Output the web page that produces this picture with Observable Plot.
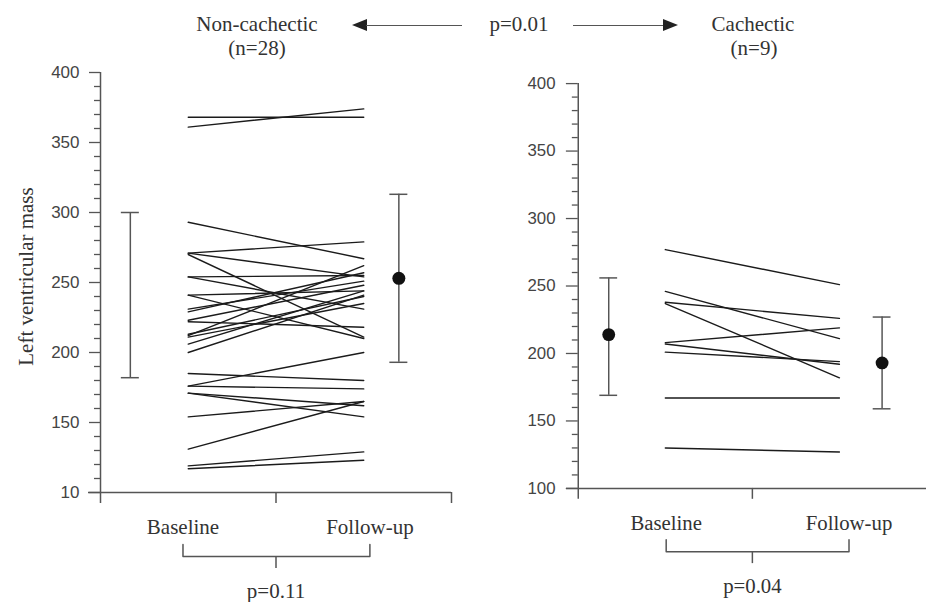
<!DOCTYPE html>
<html><head><meta charset="utf-8">
<script src="https://cdn.jsdelivr.net/npm/d3@7"></script>
<script src="https://cdn.jsdelivr.net/npm/@observablehq/plot@0.6"></script>
<style>
html,body{margin:0;padding:0;background:#fff;width:926px;height:602px;overflow:hidden;}
#wrap{position:relative;width:926px;height:602px;overflow:hidden;}
.panel{position:absolute;top:0;}
.hd{position:absolute;font-family:"Liberation Serif","Times New Roman",serif;font-size:21px;color:#333;transform:translate(-50%,-50%);white-space:nowrap;line-height:1;}
.ln{position:absolute;height:1.5px;background:#555;}
.triL{position:absolute;width:0;height:0;border-top:6px solid transparent;border-bottom:6px solid transparent;border-right:15px solid #222;}
.triR{position:absolute;width:0;height:0;border-top:6px solid transparent;border-bottom:6px solid transparent;border-left:15px solid #222;}
</style>
</head><body>
<div id="wrap">
  <div class="hd" style="left:257px;top:24px">Non-cachectic</div>
  <div class="hd" style="left:257px;top:48px">(n=28)</div>
  <div class="triL" style="left:352px;top:19px"></div>
  <div class="ln" style="left:366px;top:24.5px;width:96px"></div>
  <div class="hd" style="left:519px;top:24px">p=0.01</div>
  <div class="ln" style="left:573px;top:24.5px;width:91px"></div>
  <div class="triR" style="left:663px;top:19px"></div>
  <div class="hd" style="left:753px;top:24px">Cachectic</div>
  <div class="hd" style="left:754px;top:48px">(n=9)</div>
  <div id="left" class="panel" style="left:0px"></div>
  <div id="right" class="panel" style="left:463px"></div>
</div>
<script>
// ---- data ----
const groups = ["Baseline", "Follow-up"];
const yLabel = "Left ventricular mass";

const nonCachecticBaseline = [368, 361, 293, 271, 271, 270, 254, 254, 241, 241, 231, 229, 223, 212, 213, 211, 206, 222, 200, 185, 176, 176, 171, 171, 154, 131, 119, 117];
const nonCachecticFollowup = [368, 374, 267, 279, 254, 211, 255, 231, 244, 210, 251, 257, 248, 262, 240, 235, 244, 218, 241, 180, 200, 174, 154, 162, 165, 165, 129, 123];

const cachecticBaseline = [277, 246, 238, 237, 208, 207, 201, 167, 130];
const cachecticFollowup = [251, 211, 226, 182, 219, 192, 194, 167, 127];

// summary bars: mean (null = not drawn), lower, upper
const nonCachecticBars = [
  {side: "baseline", mean: null, lo: 182, hi: 300},
  {side: "followup", mean: 253, lo: 193, hi: 313}
];
const cachecticBars = [
  {side: "baseline", mean: 214, lo: 169, hi: 256},
  {side: "followup", mean: 193, lo: 159, hi: 227}
];

const yTicks = [100, 150, 200, 250, 300, 350, 400];
const yTickLabelsLeft = ["10", "150", "200", "250", "300", "350", "400"];
const yTickLabelsRight = ["100", "150", "200", "250", "300", "350", "400"];
const pLeft = "p=0.11";
const pRight = "p=0.04";

// ---- drawing ----
const serif = '"Liberation Serif","Times New Roman",serif';
const sans = '"Liberation Sans",Arial,sans-serif';
const axisColor = "#555";
const textColor = "#333";

function panel(cfg) {
  const {base, follow, bars, tickLabels, pText, top, k, width, marginLeft, marginRight,
         errX, labelX, tickSize, tickPadding, xEnd, endTick, showYLabel} = cfg;
  const px = (width - marginLeft - marginRight) / 2; // px per x unit
  const bottom = top + 300 * k;
  const down = (p) => 100 - p / k; // value p pixels below baseline
  const rows = [];
  base.forEach((b, i) => { rows.push({id: i, x: 1, v: b}); rows.push({id: i, x: 2, v: follow[i]}); });
  const barRows = bars.map(b => ({...b, x: b.side === "baseline" ? errX[0] : errX[1]}));
  const capW = 9 / px;
  const caps = barRows.flatMap(b => [{x: b.x, y: b.lo}, {x: b.x, y: b.hi}]);
  const minor = d3.range(100, 401, 10).filter(v => v % 50 !== 0);
  const bx1 = labelX[0], bx2 = labelX[1];
  const bracket = [{x: bx1, y: down(52)}, {x: bx1, y: down(64)}, {x: bx2, y: down(64)}, {x: bx2, y: down(52)}];
  const marks = [
    Plot.ruleX([0.5], {y1: 400, y2: down(11), stroke: axisColor, strokeWidth: 1.5}),
    Plot.ruleY([100], {x1: 0.5 - 12 / px, x2: xEnd, stroke: axisColor, strokeWidth: 1.5}),
    Plot.ruleX(endTick ? [1.5, xEnd] : [1.5], {y1: 100, y2: down(11), stroke: axisColor, strokeWidth: 1.5}),
    Plot.ruleY(minor, {x1: 0.5 - 6 / px, x2: 0.5, stroke: axisColor, strokeWidth: 1.3}),
    Plot.axisY(yTicks, {tickSize, tickPadding, stroke: axisColor, strokeWidth: 1.3,
      tickFormat: (d) => tickLabels[yTicks.indexOf(d)], fontSize: 17, fontFamily: sans, fill: "#444", label: null}),
    Plot.line(rows, {x: "x", y: "v", z: "id", stroke: "#1b1b1b", strokeWidth: 1.4}),
    Plot.ruleX(barRows, {x: "x", y1: "lo", y2: "hi", stroke: "#555", strokeWidth: 1.5}),
    Plot.ruleY(caps, {x1: d => d.x - capW, x2: d => d.x + capW, y: "y", stroke: "#555", strokeWidth: 1.5}),
    Plot.dot(barRows.filter(b => b.mean != null), {x: "x", y: "mean", r: 6.5, fill: "#111", stroke: "none"}),
    Plot.text(groups, {x: (d, i) => labelX[i], y: 100, dy: 35, text: d => d, fontSize: 21, fontFamily: serif, fill: textColor}),
    Plot.line(bracket, {x: "x", y: "y", stroke: axisColor, strokeWidth: 1.5}),
    Plot.ruleX([1.5], {y1: down(64), y2: down(76), stroke: axisColor, strokeWidth: 1.5}),
    Plot.text([pText], {x: 1.5, y: down(99), text: d => d, fontSize: 21, fontFamily: serif, fill: textColor})
  ];
  if (showYLabel) {
    marks.push(Plot.text([yLabel], {x: 0.5, y: 250, dx: -74, dy: -6, rotate: -90, text: d => d, fontSize: 21, fontFamily: serif, fill: textColor}));
  }
  return Plot.plot({
    width, height: 602,
    marginTop: top, marginBottom: 602 - bottom, marginLeft, marginRight,
    x: {domain: [0.5, 2.5], axis: null},
    y: {domain: [100, 400], axis: null},
    style: {background: "transparent", overflow: "visible"},
    marks
  });
}

document.getElementById("left").append(panel({
  base: nonCachecticBaseline, follow: nonCachecticFollowup, bars: nonCachecticBars,
  tickLabels: yTickLabelsLeft, pText: pLeft, top: 72, k: 1.4,
  width: 463, marginLeft: 100, marginRight: 12,
  errX: [0.67, 2.2], labelX: [0.97, 2.035], tickSize: 11, tickPadding: 10,
  xEnd: 2.5, endTick: true, showYLabel: true
}));
document.getElementById("right").append(panel({
  base: cachecticBaseline, follow: cachecticFollowup, bars: cachecticBars,
  tickLabels: yTickLabelsRight, pText: pRight, top: 84, k: 1.364,
  width: 468, marginLeft: 116, marginRight: 0,
  errX: [0.675, 2.245], labelX: [1.005, 2.055], tickSize: 12, tickPadding: 11,
  xEnd: 2.5, endTick: false, showYLabel: false
}));
</script>
</body></html>
